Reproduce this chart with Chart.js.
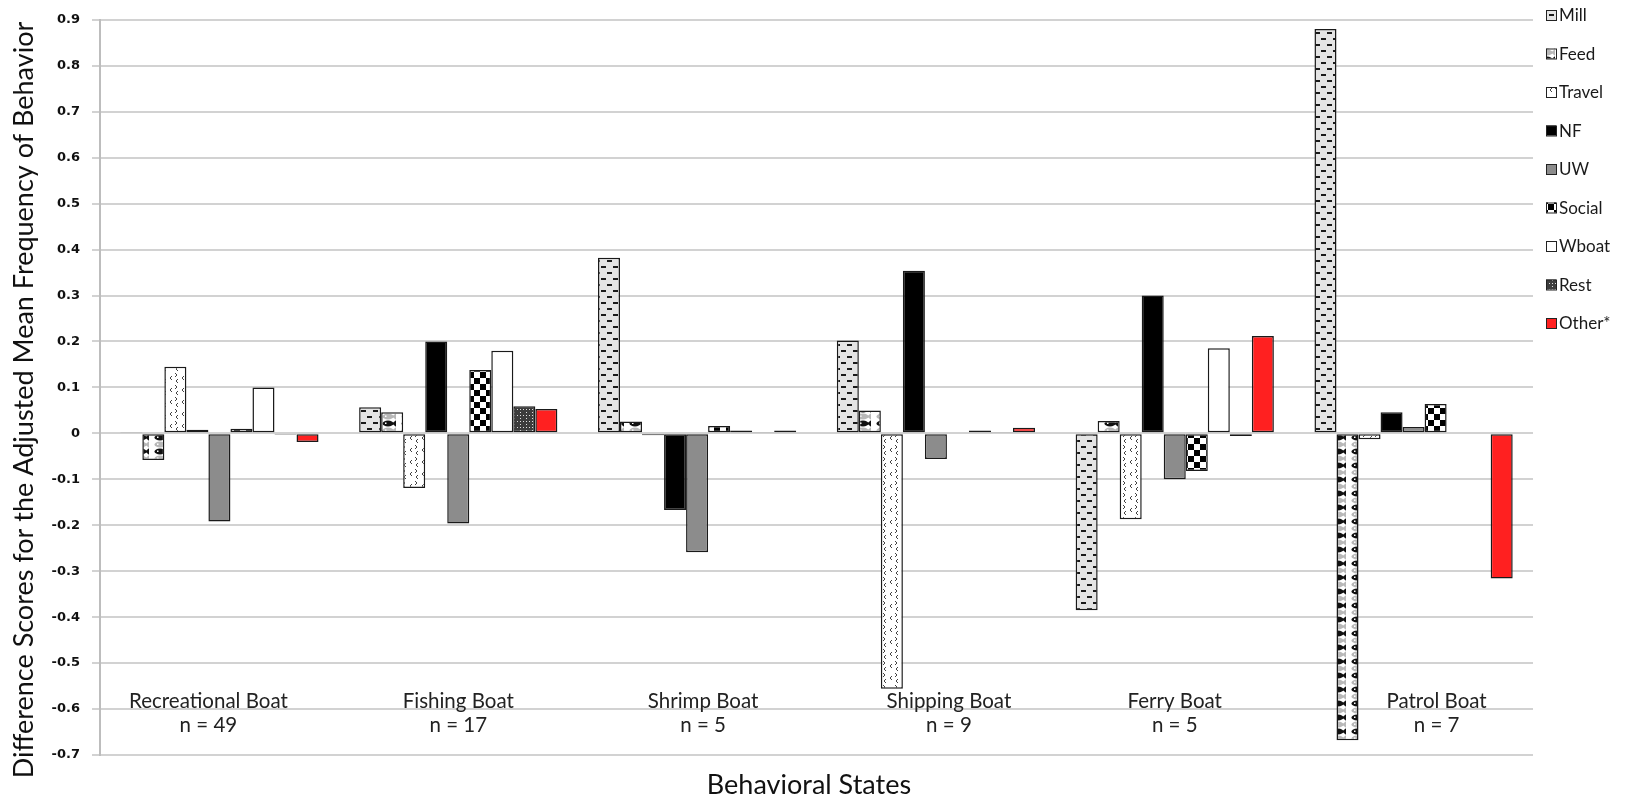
<!DOCTYPE html>
<html>
<head>
<meta charset="utf-8">
<script src="https://cdn.jsdelivr.net/npm/chart.js@4.4.0/dist/chart.umd.min.js"></script>
<style>
  html, body { margin: 0; padding: 0; background: #fff; }
  #wrap { width: 1627px; height: 797px; }
</style>
</head>
<body>
<div id="wrap"><canvas id="behaviorChart"></canvas></div>
<script>
// categories / tick setup
const boats = ['Recreational Boat', 'Fishing Boat', 'Shrimp Boat', 'Shipping Boat', 'Ferry Boat', 'Patrol Boat'];
const sampleSizes = ['n = 49', 'n = 17', 'n = 5', 'n = 9', 'n = 5', 'n = 7'];
const behaviors = ['Mill', 'Feed', 'Travel', 'NF', 'UW', 'Social', 'Wboat', 'Rest', 'Other*'];
const yMin = -0.7, yMax = 0.9, yStep = 0.1;
const yTitle = 'Difference Scores for the Adjusted Mean Frequency of Behavior';
const xTitle = 'Behavioral States';

// difference scores, one array per behavior
const mill   = [0.003, 0.057, 0.382, 0.202, -0.385, 0.880];
const feed   = [-0.058, 0.046, 0.026, 0.050, 0.027, -0.668];
const travel = [0.145, -0.119, -0.004, -0.556, -0.187, -0.013];
const nf     = [0.008, 0.200, -0.167, 0.354, 0.300, 0.046];
const uw     = [-0.192, -0.196, -0.259, -0.056, -0.100, 0.014];
const social = [0.010, 0.138, 0.016, 0.000, -0.082, 0.064];
const wboat  = [0.100, 0.180, 0.006, 0.006, 0.185, 0.000];
const rest   = [-0.003, 0.059, 0.003, 0.002, -0.006, 0.000];
const other  = [-0.019, 0.053, 0.006, 0.012, 0.212, -0.316];

// --- fill patterns ---
function makeTile(w, h, draw) {
    const c = document.createElement('canvas');
    c.width = w; c.height = h;
    const g = c.getContext('2d');
    draw(g);
    return g.createPattern(c, 'repeat');
}

const millFill = makeTile(12, 12, g => {
    g.fillStyle = '#e4e4e4';
    g.fillRect(0, 0, 12, 12);
    g.fillStyle = '#1a1a1a';
    g.fillRect(1, 2, 5, 2);
    g.fillRect(7, 8, 5, 2);
});

function fish(g, cy, color) {
    g.fillStyle = color;
    g.beginPath();
    g.ellipse(8, cy, 5.5, 3, 0, 0, Math.PI * 2);
    g.fill();
    g.beginPath();
    g.moveTo(12, cy);
    g.lineTo(16, cy - 3.2);
    g.lineTo(16, cy + 3.2);
    g.closePath();
    g.fill();
    g.fillStyle = '#fff';
    g.fillRect(5, cy - 1, 1.5, 1.5);
}
const feedFill = makeTile(19, 14, g => {
    g.fillStyle = '#fff';
    g.fillRect(0, 0, 19, 14);
    fish(g, 3.5, '#111');
    fish(g, 10.5, '#b8b8b8');
});

function chevron(g, x, y, dir) {
    g.beginPath();
    g.moveTo(x + 2 * dir, y - 2);
    g.lineTo(x, y);
    g.lineTo(x + 2 * dir, y + 2);
    g.stroke();
}
const travelFill = makeTile(12, 12, g => {
    g.fillStyle = '#fff';
    g.fillRect(0, 0, 12, 12);
    g.strokeStyle = '#444';
    g.lineWidth = 1;
    chevron(g, 9, 3, -1);
    chevron(g, 2, 6, 1);
    chevron(g, 8, 9, 1);
});

const socialFill = makeTile(12, 12, g => {
    g.fillStyle = '#fff';
    g.fillRect(0, 0, 12, 12);
    g.fillStyle = '#000';
    g.fillRect(0, 0, 6, 6);
    g.fillRect(6, 6, 6, 6);
});

const restFill = makeTile(6, 6, g => {
    g.fillStyle = '#3c3c3c';
    g.fillRect(0, 0, 6, 6);
    g.fillStyle = '#ddd';
    g.fillRect(1, 1, 1, 1);
    g.fillRect(4, 4, 1, 1);
    g.fillRect(4, 1, 1, 1);
});

const fills = [millFill, feedFill, travelFill, '#000000', '#8c8c8c', socialFill, '#ffffff', restFill, '#ff2020'];
const series = [mill, feed, travel, nf, uw, social, wboat, rest, other];

// category labels drawn inside the plot, legend at the right
const labelShift = [-11, 0, 6, 13, 0, 23];
const boatLabels = {
    id: 'boatLabels',
    afterDatasetsDraw(chart) {
        const { ctx, scales: { x, y } } = chart;
        ctx.save();
        ctx.font = '20.5px Lato';
        ctx.fillStyle = '#222';
        ctx.textAlign = 'center';
        ctx.textBaseline = 'middle';
        boats.forEach((b, i) => {
            const px = x.getPixelForValue(i) + labelShift[i];
            ctx.fillText(b, px, y.getPixelForValue(-0.584));
            ctx.fillText(sampleSizes[i], px, y.getPixelForValue(-0.636));
        });
        ctx.restore();
    }
};

// axis titles (the originals sit a bit off-centre)
const axisTitles = {
    id: 'axisTitles',
    afterDraw(chart) {
        const { ctx } = chart;
        ctx.save();
        ctx.fillStyle = '#111';
        ctx.font = '27px Lato';
        ctx.textAlign = 'center';
        ctx.textBaseline = 'middle';
        ctx.fillText(xTitle, 809, 785);
        ctx.translate(24, 400);
        ctx.rotate(-Math.PI / 2);
        ctx.fillText(yTitle, 0, 0);
        ctx.restore();
    }
};

const sideLegend = {
    id: 'sideLegend',
    afterDraw(chart) {
        const { ctx } = chart;
        ctx.save();
        ctx.font = '17px Lato';
        ctx.textBaseline = 'middle';
        chart.data.datasets.forEach((ds, i) => {
            const yc = 15 + i * 38.5;
            ctx.fillStyle = ds.backgroundColor;
            ctx.fillRect(1546, yc - 5, 10, 10);
            ctx.strokeStyle = '#222';
            ctx.lineWidth = 1;
            ctx.strokeRect(1546.5, yc - 4.5, 10, 10);
            ctx.fillStyle = '#1a1a1a';
            ctx.fillText(ds.label, 1559, yc + 1);
        });
        ctx.restore();
    }
};

const ctx = document.getElementById('behaviorChart').getContext('2d');
new Chart(ctx, {
    type: 'bar',
    data: {
        labels: boats,
        datasets: behaviors.map((name, i) => ({
            label: name,
            data: series[i],
            backgroundColor: fills[i],
            borderColor: '#1a1a1a',
            borderWidth: 1.5,
            borderSkipped: false,
            categoryPercentage: 0.83,
            barPercentage: 1.0
        }))
    },
    options: {
        responsive: true,
        maintainAspectRatio: false,
        animation: false,
        layout: { padding: { top: 19, right: 94, bottom: 0, left: 0 } },
        plugins: {
            legend: { display: false },
            tooltip: { enabled: false }
        },
        scales: {
            x: {
                grid: { display: false, drawTicks: false },
                border: { display: false },
                ticks: { display: false },
                afterFit(scale) { scale.height = 42; }
            },
            y: {
                min: yMin,
                max: yMax,
                ticks: {
                    stepSize: yStep,
                    padding: 12,
                    color: '#111',
                    font: { family: 'DejaVu Sans', size: 13, weight: 'bold' },
                    callback: v => (Math.abs(v) < 1e-9 ? '0' : v.toFixed(1))
                },
                grid: { color: '#d2d2d2', lineWidth: 2, tickLength: 8 },
                border: { color: '#bdbdbd', width: 2 },
                afterFit(scale) { scale.width = 100; }
            }
        }
    },
    plugins: [boatLabels, axisTitles, sideLegend]
});
</script>
</body>
</html>
